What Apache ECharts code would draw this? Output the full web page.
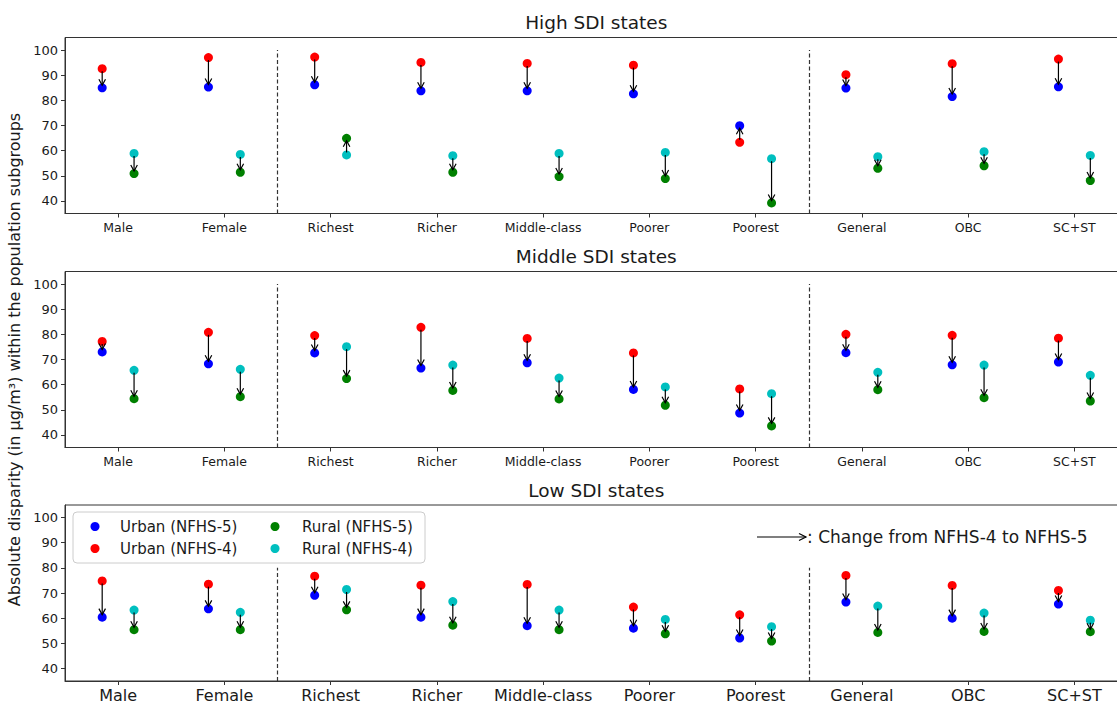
<!DOCTYPE html>
<html>
<head>
<meta charset="utf-8">
<title>Absolute disparity by SDI group</title>
<script src="https://cdn.jsdelivr.net/npm/echarts@6/dist/echarts.min.js"></script>
<style>
  html, body { margin: 0; padding: 0; background: #fff; }
  #chart { width: 1117px; height: 705px; }
</style>
</head>
<body>
<div id="chart"></div>
<script>
// Population subgroups shown along each x axis
const categories = ['Male', 'Female', 'Richest', 'Richer', 'Middle-class', 'Poorer', 'Poorest', 'General', 'OBC', 'SC+ST'];
const yTicks = [40, 50, 60, 70, 80, 90, 100];
// group separators (between sex / wealth / caste blocks)
const separators = [1.5, 6.5];
const panelTitles = ['High SDI states', 'Middle SDI states', 'Low SDI states'];

// High SDI states
const urban5High = [85.0, 85.3, 86.2, 83.8, 83.8, 82.6, 69.9, 84.9, 81.5, 85.4];
const urban4High = [92.6, 97.0, 97.2, 95.1, 94.7, 94.0, 63.3, 90.2, 94.6, 96.4];
const rural5High = [50.9, 51.4, 64.9, 51.4, 49.7, 48.9, 39.2, 53.0, 54.0, 48.1];
const rural4High = [58.9, 58.5, 58.3, 58.0, 58.9, 59.3, 56.8, 57.6, 59.6, 58.1];

// Middle SDI states
const urban5Mid = [73.0, 68.3, 72.6, 66.6, 68.7, 58.1, 48.7, 72.7, 67.9, 69.0];
const urban4Mid = [77.2, 80.8, 79.5, 82.8, 78.4, 72.6, 58.3, 80.0, 79.6, 78.5];
const rural5Mid = [54.4, 55.2, 62.4, 57.7, 54.3, 51.8, 43.6, 58.0, 54.8, 53.5];
const rural4Mid = [65.7, 66.1, 75.1, 67.8, 62.6, 59.1, 56.4, 64.9, 67.8, 63.7];

// Low SDI states
const urban5Low = [60.4, 63.7, 69.1, 60.4, 57.0, 56.0, 52.1, 66.4, 60.0, 65.6];
const urban4Low = [74.8, 73.5, 76.7, 73.1, 73.4, 64.4, 61.3, 77.0, 73.0, 71.0];
const rural5Low = [55.4, 55.4, 63.3, 57.2, 55.4, 53.8, 50.9, 54.3, 54.7, 54.6];
const rural4Low = [63.2, 62.3, 71.4, 66.6, 63.2, 59.5, 56.6, 64.8, 62.0, 59.2];

const panels = [
  { u5: urban5High, u4: urban4High, r5: rural5High, r4: rural4High, sepTop: 100 },
  { u5: urban5Mid,  u4: urban4Mid,  r5: rural5Mid,  r4: rural4Mid,  sepTop: 100 },
  { u5: urban5Low,  u4: urban4Low,  r5: rural5Low,  r4: rural4Low,  sepTop: 80 }
];

const FONT = 'DejaVu Sans';
const INK = '#1a1a1a';
const SPINE = '#333';
const OFFSET = 0.15;          // horizontal shift of urban (-) and rural (+) markers
const Y_MIN = 35, Y_MAX = 105;
const gridTops = [37.5, 271.5, 505];
const GRID_LEFT = 65, GRID_WIDTH = 1062.5, GRID_HEIGHT = 176;

const COLORS = {
  'Urban (NFHS-5)': '#0000ff',
  'Urban (NFHS-4)': '#ff0000',
  'Rural (NFHS-5)': '#008000',
  'Rural (NFHS-4)': '#00bfbf'
};

// open "->" arrow from the NFHS-4 value to the NFHS-5 value
function renderArrow(params, api) {
  const p0 = api.coord([api.value(0), api.value(1)]);
  const p1 = api.coord([api.value(2), api.value(3)]);
  const dx = p1[0] - p0[0], dy = p1[1] - p0[1];
  const len = Math.hypot(dx, dy) || 1;
  const ux = dx / len, uy = dy / len;
  const shrink = 2.5;
  const a = [p0[0] + ux * shrink, p0[1] + uy * shrink];
  const b = [p1[0] - ux * shrink, p1[1] - uy * shrink];
  const hl = 6, hw = 3.3;
  const bx = b[0] - ux * hl, by = b[1] - uy * hl;
  const h1 = [bx - uy * hw, by + ux * hw];
  const h2 = [bx + uy * hw, by - ux * hw];
  return {
    type: 'group',
    children: [
      { type: 'line', shape: { x1: a[0], y1: a[1], x2: b[0], y2: b[1] },
        style: { stroke: '#000', lineWidth: 1.2 } },
      { type: 'polyline', shape: { points: [h1, b, h2] },
        style: { stroke: '#000', fill: null, lineWidth: 1.2 } }
    ]
  };
}

const grids = [], xAxes = [], yAxes = [], series = [];

panels.forEach((p, k) => {
  const isLast = k === 2;
  grids.push({
    left: GRID_LEFT, top: gridTops[k], width: GRID_WIDTH, height: GRID_HEIGHT,
    show: true, borderColor: SPINE, borderWidth: 1, backgroundColor: 'transparent',
    containLabel: false, outerBoundsMode: 'none'
  });
  xAxes.push({
    gridIndex: k, type: 'value', min: -0.5, max: 9.5,
    splitLine: { show: false },
    axisLine: { show: true, onZero: false, lineStyle: { color: SPINE, width: 1 } },
    axisTick: { show: true, length: 4, customValues: categories.map((c, i) => i), lineStyle: { color: SPINE } },
    axisLabel: {
      customValues: categories.map((c, i) => i),
      formatter: v => categories[Math.round(v)],
      fontFamily: FONT, fontSize: isLast ? 16 : 12.5, color: INK, margin: isLast ? 6 : 7
    }
  });
  const yAxis = {
    gridIndex: k, type: 'value', min: Y_MIN, max: Y_MAX,
    splitLine: { show: false },
    axisLine: { show: true, onZero: false, lineStyle: { color: SPINE, width: 1 } },
    axisTick: { show: true, length: 4, customValues: yTicks, lineStyle: { color: SPINE } },
    axisLabel: { customValues: yTicks, fontFamily: FONT, fontSize: 13, color: INK, margin: 7 }
  };
  if (k === 1) {
    Object.assign(yAxis, {
      name: 'Absolute disparity (in μg/m³) within the population subgroups',
      nameLocation: 'middle', nameRotate: 90, nameGap: 38,
      nameTextStyle: { fontFamily: FONT, fontSize: 16, color: INK }
    });
  }
  yAxes.push(yAxis);

  const pts = (vals, off) => vals.map((v, i) => [i + off, v]);
  const scatter = (name, data) => ({
    name, type: 'scatter', xAxisIndex: k, yAxisIndex: k,
    data, symbol: 'circle', symbolSize: 9,
    itemStyle: { color: COLORS[name], opacity: 1 },
    emphasis: { disabled: true }, z: 2
  });
  series.push(scatter('Urban (NFHS-5)', pts(p.u5, -OFFSET)));
  series.push(scatter('Urban (NFHS-4)', pts(p.u4, -OFFSET)));
  series.push(scatter('Rural (NFHS-5)', pts(p.r5, OFFSET)));
  series.push(scatter('Rural (NFHS-4)', pts(p.r4, OFFSET)));

  const arrows = [];
  categories.forEach((c, i) => {
    arrows.push([i - OFFSET, p.u4[i], i - OFFSET, p.u5[i]]);
    arrows.push([i + OFFSET, p.r4[i], i + OFFSET, p.r5[i]]);
  });
  series.push({
    type: 'custom', coordinateSystem: 'cartesian2d', xAxisIndex: k, yAxisIndex: k,
    data: arrows, renderItem: renderArrow, silent: true, z: 3,
    markLine: {
      silent: true, symbol: 'none', animation: false,
      label: { show: false },
      lineStyle: { color: SPINE, type: [4, 2.5], width: 1.2 },
      data: separators.map(s => [{ coord: [s, Y_MIN] }, { coord: [s, p.sepTop] }])
    }
  });
});

const graphics = [];
panelTitles.forEach((t, k) => {
  graphics.push({
    type: 'text', x: GRID_LEFT + GRID_WIDTH / 2, y: gridTops[k] - 15,
    style: { text: t, font: '18.5px "DejaVu Sans"', fill: INK, align: 'center', verticalAlign: 'middle' }
  });
});
// legend frame
graphics.push({
  type: 'rect', shape: { x: 73, y: 512, width: 352, height: 51, r: 4 },
  style: { fill: 'rgba(255,255,255,0.8)', stroke: '#cccccc', lineWidth: 1 }, z: 5
});
// annotation explaining the arrows
graphics.push({
  type: 'group', z: 5,
  children: [
    { type: 'line', shape: { x1: 757, y1: 537, x2: 806, y2: 537 }, style: { stroke: '#000', lineWidth: 1.2 } },
    { type: 'polyline', shape: { points: [[799, 533.5], [806, 537], [799, 540.5]] }, style: { stroke: '#000', fill: null, lineWidth: 1.2 } },
    { type: 'text', x: 807, y: 537, style: { text: ': Change from NFHS-4 to NFHS-5', font: '17px "DejaVu Sans"', fill: INK, align: 'left', verticalAlign: 'middle' } }
  ]
});

const legendBase = {
  orient: 'vertical', icon: 'circle', itemWidth: 9, itemHeight: 9, itemGap: 7,
  padding: 0, selectedMode: false, z: 6
};

const option = {
  animation: false,
  backgroundColor: '#ffffff',
  grid: grids,
  xAxis: xAxes,
  yAxis: yAxes,
  legend: [
    Object.assign({}, legendBase, {
      left: 90.5, top: 519, data: ['Urban (NFHS-5)', 'Urban (NFHS-4)'],
      textStyle: { fontFamily: FONT, fontSize: 15, color: INK, padding: [0, 0, 0, 15.5] }
    }),
    Object.assign({}, legendBase, {
      left: 270.5, top: 519, data: ['Rural (NFHS-5)', 'Rural (NFHS-4)'],
      textStyle: { fontFamily: FONT, fontSize: 15, color: INK, padding: [0, 0, 0, 17.5] }
    })
  ],
  graphic: graphics,
  series
};

const chart = echarts.init(document.getElementById('chart'), null, { renderer: 'svg' });
chart.setOption(option);
</script>
</body>
</html>
